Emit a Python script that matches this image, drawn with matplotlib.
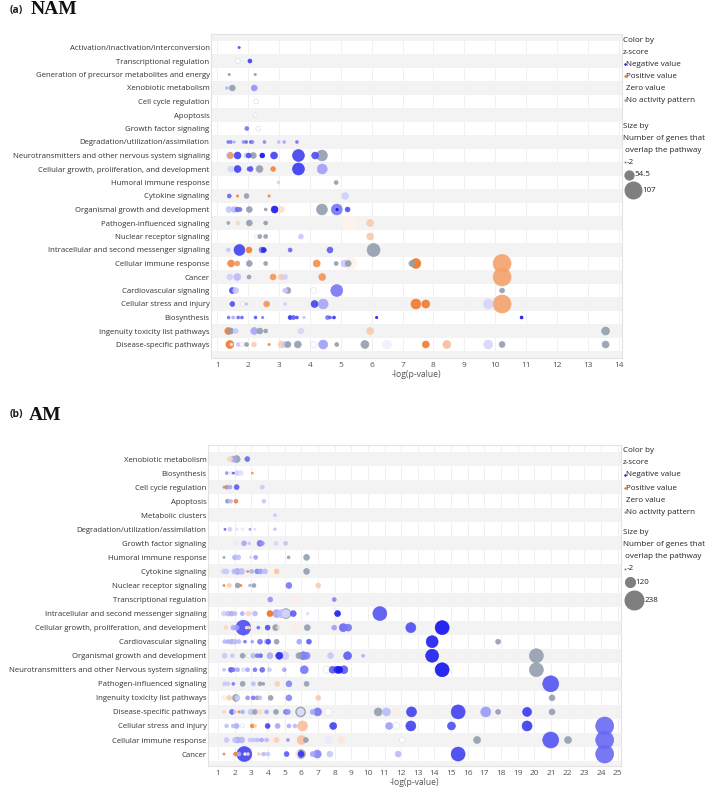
import numpy as np
import matplotlib
matplotlib.use('Agg')
import matplotlib.pyplot as plt

plt.rcParams['font.family'] = ['Open Sans', 'DejaVu Sans']

NA = np.nan  # no activity pattern

# (a) NAM -- each point: (-log p, number of genes, z-score)
nam_categories = [
    'Activation/inactivation/interconversion', 'Transcriptional regulation',
    'Generation of precursor metabolites and energy', 'Xenobiotic metabolism',
    'Cell cycle regulation', 'Apoptosis', 'Growth factor signaling',
    'Degradation/utilization/assimilation',
    'Neurotransmitters and other nervous system signaling',
    'Cellular growth, proliferation, and development', 'Humoral immune response',
    'Cytokine signaling', 'Organismal growth and development',
    'Pathogen-influenced signaling', 'Nuclear receptor signaling',
    'Intracellular and second messenger signaling', 'Cellular immune response',
    'Cancer', 'Cardiovascular signaling', 'Cellular stress and injury',
    'Biosynthesis', 'Ingenuity toxicity list pathways', 'Disease-specific pathways',
]
nam_points = [
    [(1.71, 1, -2.5)],
    [(1.67, 18, 0), (2.06, 12, -2.8)],
    [(1.39, 1, NA), (2.23, 1, NA)],
    [(1.31, 5, -1.0), (1.49, 25, NA), (2.20, 25, -1.6)],
    [(2.26, 18, 0)],
    [(2.24, 12, 0)],
    [(1.96, 12, -2.0), (2.33, 18, 0)],
    [(1.36, 5, -2.0), (1.44, 5, -2.0), (1.55, 1, -1.2), (1.85, 5, -1.6), (1.94, 5, -2.2),
     (2.09, 5, -2.4), (2.14, 5, -1.8), (2.53, 5, -1.8), (2.99, 5, -1.0), (3.17, 5, -1.3),
     (3.58, 5, -2.0)],
    [(1.41, 32, -0.8), (1.43, 25, 2.5), (1.66, 32, -2.8), (1.95, 18, -1.0), (2.02, 18, -2.6),
     (2.17, 25, NA), (2.46, 18, -3.5), (2.84, 32, -2.8), (3.63, 66, -2.8), (4.17, 32, -2.6),
     (4.39, 59, NA)],
    [(1.44, 25, -0.6), (1.66, 32, -2.8), (2.03, 12, -2.4), (2.08, 18, -2.6), (2.37, 32, NA),
     (2.81, 18, 3.0), (3.63, 66, -2.9), (4.40, 52, -1.4)],
    [(2.98, 5, 1.2), (4.85, 12, NA)],
    [(1.39, 12, -2.2), (1.66, 1, 3.0), (1.95, 18, NA), (2.68, 1, 3.0), (5.14, 32, -0.7)],
    [(1.38, 25, -0.8), (1.55, 25, -1.0), (1.66, 18, -2.2), (1.74, 12, -2.0), (2.04, 25, NA),
     (2.57, 5, NA), (2.86, 32, -3.4), (3.08, 25, 0.8), (4.39, 59, NA), (4.87, 59, -2.0),
     (4.88, 1, -3.5), (5.22, 18, -2.6)],
    [(1.36, 5, NA), (1.67, 12, 1.0), (2.04, 25, NA), (2.57, 12, NA), (5.30, 80, 0.3),
     (5.95, 32, 1.3)],
    [(2.26, 12, 0), (2.38, 12, NA), (2.57, 12, NA), (3.71, 18, -0.8), (5.95, 32, 1.3)],
    [(1.36, 12, -0.8), (1.72, 59, -2.8), (2.03, 25, 3.2), (2.45, 25, -2.0), (2.51, 18, -3.2),
     (3.36, 12, -2.2), (4.65, 25, -2.4), (6.06, 73, NA)],
    [(1.45, 32, 3.0), (1.65, 18, 2.6), (2.04, 25, NA), (2.57, 12, NA), (4.22, 32, 2.8),
     (4.85, 12, NA), (5.12, 32, -0.8), (5.24, 25, NA), (5.30, 73, 0.3), (7.30, 25, NA),
     (7.43, 52, 3.4), (10.22, 107, 2.3)],
    [(1.41, 25, -0.7), (1.65, 32, -1.0), (2.03, 12, NA), (2.81, 25, 2.6), (3.08, 25, 1.3),
     (3.20, 18, -0.7), (4.40, 32, 2.6), (10.22, 107, 2.3)],
    [(1.49, 25, -2.6), (1.60, 25, -0.8), (3.20, 18, -0.8), (3.29, 25, NA), (4.12, 25, 0),
     (4.87, 66, -2.0), (10.22, 18, NA)],
    [(1.49, 18, -2.6), (1.81, 12, 0), (1.95, 1, -1.0), (2.60, 25, 2.6), (3.20, 5, -0.7),
     (4.15, 32, -2.8), (4.43, 52, -1.3), (7.43, 52, 3.3), (7.75, 39, 3.3), (9.77, 52, -0.6),
     (10.22, 107, 2.3)],
    [(1.37, 5, -2.0), (1.52, 5, -1.2), (1.68, 5, -2.2), (1.80, 5, -2.2), (2.24, 5, -2.4),
     (2.47, 1, -2.0), (3.36, 12, -3.0), (3.47, 12, -2.4), (3.58, 5, -2.6), (3.81, 1, -1.0),
     (4.57, 12, -2.0), (4.65, 5, -2.4), (4.78, 5, -3.0), (6.16, 1, -3.5), (10.85, 5, -3.5)],
    [(1.36, 32, 3.3), (1.44, 25, NA), (1.60, 18, -0.8), (2.20, 32, -1.3), (2.38, 25, NA),
     (2.57, 12, NA), (3.71, 25, -0.6), (5.95, 32, 1.3), (13.57, 39, NA)],
    [(1.41, 39, 3.3), (1.46, 5, 0), (1.68, 12, -0.8), (1.80, 12, 0), (1.95, 12, NA),
     (2.19, 18, 1.2), (2.68, 1, 3.0), (3.08, 32, 1.2), (3.20, 25, -0.8), (3.29, 25, NA),
     (3.61, 32, NA), (4.12, 25, 0), (4.43, 46, -1.4), (4.87, 12, NA), (5.78, 39, NA),
     (6.49, 46, -0.2), (7.75, 32, 3.3), (8.43, 39, 1.6), (9.77, 46, -0.6), (10.22, 25, NA),
     (13.57, 32, NA)],
]

# (b) AM
am_categories = [
    'Xenobiotic metabolism', 'Biosynthesis', 'Cell cycle regulation', 'Apoptosis',
    'Metabolic clusters', 'Degradation/utilization/assimilation', 'Growth factor signaling',
    'Humoral immune response', 'Cytokine signaling', 'Nuclear receptor signaling',
    'Transcriptional regulation', 'Intracellular and second messenger signaling',
    'Cellular growth, proliferation, and development', 'Cardiovascular signaling',
    'Organismal growth and development',
    'Neurotransmitters and other Nervous system signaling',
    'Pathogen-influenced signaling', 'Ingenuity toxicity list pathways',
    'Disease-specific pathways', 'Cellular stress and injury', 'Cellular immune response',
    'Cancer',
]
am_points = [
    [(1.72, 38, 1.0), (1.92, 51, -1.3), (2.12, 65, NA), (2.76, 38, -2.2)],
    [(1.52, 11, -1.6), (1.76, 11, -0.4), (1.92, 1, -2.4), (2.16, 38, -0.7), (2.36, 38, -0.5),
     (3.06, 1, 2.6)],
    [(1.36, 1, 3.0), (1.52, 25, NA), (1.72, 25, -1.3), (2.12, 38, -2.4), (3.66, 25, -0.8)],
    [(1.56, 25, NA), (1.76, 25, -1.0), (2.08, 25, 3.0), (3.76, 25, -0.8)],
    [(4.42, 11, -0.8)],
    [(1.42, 1, -2.2), (1.72, 25, -0.7), (2.12, 11, -0.4), (2.48, 11, -0.3), (2.92, 1, -1.4),
     (3.22, 1, -0.5), (4.42, 11, -0.8)],
    [(2.06, 38, -0.3), (2.56, 38, -1.3), (2.88, 11, -0.8), (3.52, 51, -2.0), (3.66, 25, -1.6),
     (4.48, 25, -0.6), (5.06, 25, -0.9)],
    [(1.36, 1, NA), (2.02, 38, -1.1), (2.22, 38, -0.9), (2.96, 11, -0.5), (3.26, 25, -1.4),
     (5.24, 11, NA), (6.32, 51, NA)],
    [(1.36, 38, -0.7), (1.52, 38, -0.8), (1.98, 38, -1.0), (2.16, 51, -1.3), (2.42, 51, -1.0),
     (2.78, 1, 3.0), (3.02, 25, -1.2), (3.36, 38, -1.8), (3.56, 38, -1.4), (3.82, 38, -1.0),
     (4.32, 65, 0.3), (4.52, 38, 1.5), (6.32, 51, NA)],
    [(1.36, 1, 3.0), (1.68, 25, 1.3), (2.18, 38, NA), (2.38, 1, 3.0), (2.92, 11, -1.2),
     (3.16, 25, NA), (5.26, 51, -2.0), (7.02, 38, 1.2)],
    [(4.14, 38, -1.6), (5.62, 51, 0.4), (7.98, 25, -1.8)],
    [(1.36, 38, -0.7), (1.62, 38, -1.0), (1.82, 38, -1.2), (2.02, 25, -1.0), (2.46, 25, -1.2),
     (2.82, 38, 1.0), (3.22, 38, -1.0), (4.12, 51, 3.5), (4.52, 78, -1.3), (4.82, 78, -1.0),
     (5.08, 105, NA), (5.08, 78, -0.6), (5.52, 51, -2.4), (6.38, 11, -0.5), (8.18, 51, -3.3),
     (10.72, 158, -2.5)],
    [(1.48, 25, 1.0), (1.92, 38, -1.2), (2.12, 38, -1.4), (2.52, 171, -2.6), (2.72, 11, 0.5),
     (2.88, 11, 1.0), (3.42, 11, -2.2), (3.98, 38, -2.6), (4.46, 51, NA), (4.62, 11, 1.0),
     (5.66, 51, 0.4), (6.36, 51, NA), (7.98, 38, -1.4), (8.52, 78, -2.2), (8.82, 65, -2.0),
     (12.58, 105, -2.6), (14.46, 158, -3.5)],
    [(1.40, 25, -1.0), (1.60, 25, -1.2), (1.82, 38, -1.2), (2.02, 38, -1.0), (2.26, 25, -1.0),
     (2.62, 11, -2.0), (3.06, 11, -1.4), (3.52, 38, -2.0), (3.92, 38, -1.0), (4.02, 38, -2.6),
     (4.52, 38, NA), (5.88, 38, -1.3), (6.46, 38, -2.4), (13.86, 131, -3.3), (17.82, 38, NA)],
    [(1.40, 38, -0.8), (1.86, 25, -0.8), (2.48, 38, NA), (2.82, 25, 0), (3.12, 38, -1.0),
     (3.36, 25, -2.0), (3.56, 25, -2.2), (4.12, 51, -1.2), (4.68, 65, -3.2), (5.02, 78, -0.7),
     (5.86, 51, NA), (6.12, 78, -2.0), (6.32, 65, -1.8), (7.76, 51, -0.8), (8.78, 78, -2.4),
     (9.72, 11, -1.2), (13.86, 145, -3.3), (20.12, 158, NA)],
    [(1.36, 11, -1.0), (1.78, 38, -2.4), (1.92, 25, -2.0), (2.18, 25, -1.3), (2.52, 25, -0.5),
     (2.78, 25, -1.3), (3.22, 25, -2.0), (3.66, 38, -2.2), (4.08, 25, -0.8), (4.98, 25, -1.3),
     (6.18, 78, -2.0), (7.52, 65, 0), (7.88, 65, -2.4), (8.16, 65, -3.0), (8.28, 65, -3.4),
     (8.56, 78, -2.4), (14.46, 158, -3.6), (20.12, 158, NA)],
    [(1.40, 25, -0.8), (1.60, 25, -0.8), (1.92, 11, -2.0), (2.48, 38, NA), (3.12, 25, -1.0),
     (3.52, 25, NA), (3.72, 11, NA), (4.56, 38, 1.2), (5.26, 51, -1.8), (6.32, 38, NA),
     (20.98, 185, -2.5)],
    [(1.36, 38, 0.4), (1.68, 38, 1.2), (2.08, 65, NA), (2.16, 38, -0.7), (2.78, 25, -1.6),
     (3.12, 25, -2.0), (3.36, 25, NA), (3.52, 25, -1.0), (4.16, 38, NA), (5.26, 51, -1.8),
     (7.02, 38, 1.3), (21.06, 51, NA)],
    [(1.36, 11, 1.0), (1.84, 38, -2.2), (2.00, 11, -0.8), (2.26, 1, 3.0), (2.48, 25, -1.2),
     (2.98, 51, -0.8), (3.22, 38, NA), (3.52, 38, 0.8), (3.92, 25, -1.3), (4.48, 38, NA),
     (5.08, 38, -2.0), (5.20, 38, -1.6), (5.96, 105, NA), (5.96, 65, -0.4), (6.68, 38, -1.3),
     (6.98, 78, -2.0), (7.62, 78, 0), (10.62, 78, NA), (11.12, 78, -1.0), (11.72, 65, 0.4),
     (12.62, 105, -2.8), (15.42, 158, -2.8), (17.08, 105, -1.5), (17.82, 38, NA),
     (19.56, 91, -2.9), (21.06, 51, NA)],
    [(1.52, 25, -0.9), (1.92, 25, -1.0), (2.12, 38, -1.2), (2.48, 25, 0), (3.06, 25, 3.0),
     (3.24, 11, 1.2), (3.98, 38, -2.8), (4.58, 38, -1.3), (5.26, 25, -1.2), (5.62, 25, -1.0),
     (6.08, 105, 1.6), (7.92, 65, -2.8), (11.28, 65, -1.4), (11.72, 65, 0), (12.58, 105, -2.8),
     (15.02, 78, -2.6), (19.56, 105, -2.9), (24.22, 211, -2.2)],
    [(1.52, 38, -0.8), (2.02, 38, -0.9), (2.16, 51, -1.3), (2.42, 51, -1.1), (2.92, 25, -0.8),
     (3.12, 25, -0.9), (3.36, 25, -1.0), (3.62, 25, -1.3), (3.92, 25, -1.0), (4.28, 51, 0.5),
     (4.52, 38, 1.2), (5.20, 11, -1.6), (6.02, 91, 1.5), (6.28, 38, NA), (7.62, 78, -0.3),
     (8.40, 65, 0.6), (12.06, 51, 0), (16.56, 65, NA), (20.98, 185, -2.5), (22.02, 65, NA),
     (24.22, 211, -2.2)],
    [(1.36, 1, 3.0), (2.06, 25, 3.2), (2.26, 25, -1.2), (2.58, 171, -2.8), (2.62, 11, 0),
     (2.80, 11, 1.0), (3.46, 11, 1.2), (3.74, 25, -1.0), (4.00, 25, -0.8), (5.12, 38, -2.4),
     (5.82, 51, 0.5), (5.98, 91, NA), (5.98, 51, -3.0), (6.68, 38, -1.3), (6.96, 78, -1.8),
     (7.72, 51, -0.8), (11.82, 51, -1.0), (15.42, 158, -2.8), (24.22, 211, -2.2)],
]

nam_size_legend = ['-2', '54.5', '107']
am_size_legend = ['-2', '120', '238']

BLUE = np.array([16, 16, 238]) / 255
ORANGE = np.array([240, 112, 32]) / 255
GRAY = np.array([148, 158, 174]) / 255


def zcolor(z):
    if np.isnan(z):
        return tuple(GRAY)
    t = min(abs(z) / 3.5, 1.0)
    base = BLUE if z < 0 else ORANGE
    return tuple(1 - (1 - base) * t)


def msize(n, nmax, dmax):
    # diameter in px grows linearly from 2 px (n = -2) to dmax (n = nmax)
    d = 2 + (dmax - 2) * (n + 2) / (nmax + 2)
    return (d * 0.72) ** 2


def draw_panel(ax, cats, pts, xlim, ylim, ticks, nmax, dmax, band_start):
    for i in range(band_start, len(cats) + 2, 2):
        ax.axhspan(i - 0.5, i + 0.5, color='#f3f3f3', lw=0, zorder=0.5)
    for t in ticks:
        ax.axvline(t, color='#eeeeee', lw=0.6, zorder=0.4)
    allp = []
    for r, plist in enumerate(pts):
        for x, g, z in plist:
            allp.append((r, x, g, z))
    allp.sort(key=lambda p: -p[2])
    ys = [p[0] for p in allp]
    xs = [p[1] for p in allp]
    ss = [msize(p[2], nmax, dmax) for p in allp]
    cs = [zcolor(p[3]) for p in allp]
    es = [(0.84, 0.84, 0.89) if p[3] == 0 else cs[k] for k, p in enumerate(allp)]
    ax.scatter(xs, ys, s=ss, c=cs, edgecolors=es, linewidths=0.4, alpha=0.9, zorder=3)
    ax.set_xlim(*xlim)
    ax.set_ylim(*ylim)
    ax.set_xticks(ticks)
    ax.set_xticklabels([str(t) for t in ticks], fontsize=6, color='#555555')
    ax.set_yticks(range(len(cats)))
    ax.set_yticklabels(cats, fontsize=5.6, color='#333333')
    ax.tick_params(axis='y', length=0, pad=1)
    ax.tick_params(axis='x', length=0, pad=3)
    ax.set_xlabel('-log(p-value)', fontsize=6.2, color='#555555', labelpad=0.5)
    for s in ax.spines.values():
        s.set_color('#e2e2e2')
        s.set_linewidth(0.8)


fig = plt.figure(figsize=(7.09, 7.95), dpi=100)
W, H = 709, 795

ax_a = fig.add_axes([211 / W, 1 - 358 / H, 411 / W, 324 / H])
draw_panel(ax_a, nam_categories, nam_points, (0.8, 14.1), (23.0, -1.0),
           list(range(1, 15)), 107, 18, -1)

ax_b = fig.add_axes([208 / W, 1 - 766 / H, 413 / W, 321 / H])
draw_panel(ax_b, am_categories, am_points, (0.4, 25.2), (21.85, -1.0),
           list(range(1, 26)), 238, 20, 0)

# overlay in pixel coordinates for titles and legends
ov = fig.add_axes([0, 0, 1, 1])
ov.set_xlim(0, W)
ov.set_ylim(H, 0)
ov.axis('off')
ov.patch.set_alpha(0)

ov.text(10, 10, '(a)', fontsize=7.5, fontweight='bold', va='center', color='#222222')
ov.text(31, 10, 'NAM', fontsize=14, fontweight='bold', va='center',
        family=['Liberation Serif', 'DejaVu Serif'], color='#111111')
ov.text(10, 415, '(b)', fontsize=7.5, fontweight='bold', va='center', color='#222222')
ov.text(29, 415, 'AM', fontsize=14, fontweight='bold', va='center',
        family=['Liberation Serif', 'DejaVu Serif'], color='#111111')


def draw_legend(labels, nmax, dmax, ys):
    fs = 5.75
    tc = '#222222'
    ov.text(623, ys[0], 'Color by', fontsize=fs, va='center', color=tc)
    ov.text(623, ys[1], 'z-score', fontsize=fs, va='center', color=tc)
    items = [('Negative value', tuple(BLUE)), ('Positive value', tuple(ORANGE)),
             ('Zero value', None), ('No activity pattern', tuple(GRAY))]
    for k, (lab, col) in enumerate(items):
        yy = ys[2 + k]
        if col is not None:
            ov.scatter([624.5], [yy], s=3, c=[col], lw=0)
        ov.text(626.5, yy, lab, fontsize=fs, va='center', color=tc)
    ov.text(623, ys[6], 'Size by', fontsize=fs, va='center', color=tc)
    ov.text(623, ys[7], 'Number of genes that', fontsize=fs, va='center', color=tc)
    ov.text(625, ys[8], 'overlap the pathway', fontsize=fs, va='center', color=tc)
    for k, lab in enumerate(labels):
        n = float(lab)
        d = 2 + (dmax - 2) * (n + 2) / (nmax + 2)
        yy = ys[9 + k]
        cx = 624 + d / 2
        ov.scatter([cx], [yy], s=(d * 0.72) ** 2, c='#7f7f7f', lw=0)
        ov.text(cx + d / 2 + 0.5, yy, lab, fontsize=fs, va='center', color=tc)


draw_legend(nam_size_legend, 107, 18, [40, 52, 64, 76, 88, 100, 127, 139, 150, 162, 175, 190])
draw_legend(am_size_legend, 238, 20, [451, 463, 475, 488, 500, 512, 533, 545, 557, 569, 582, 600])

fig.savefig('out.png', dpi=100)
